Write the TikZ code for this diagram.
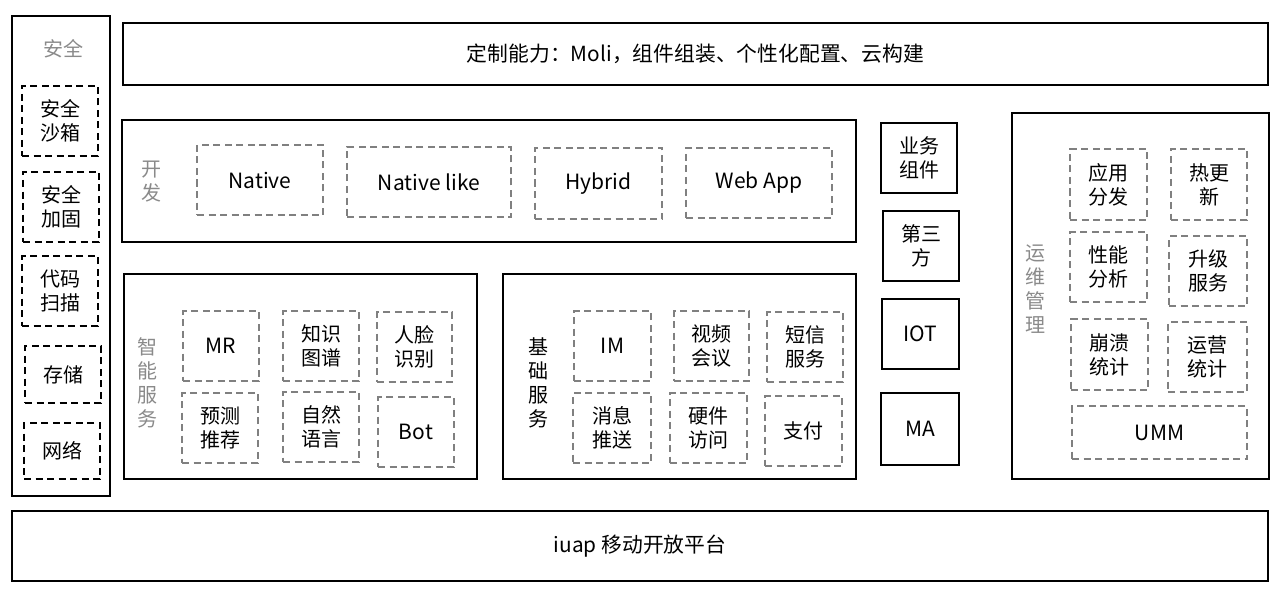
\documentclass[tikz,border=0pt]{standalone}
\usepackage{fontspec}
\setmainfont{Noto Sans CJK SC}
\definecolor{dgray}{HTML}{808080}
\definecolor{lgray}{HTML}{8A8A8A}
\newcommand{\bx}[7]{\node[#1, minimum width={(#5-#3)*1pt}, minimum height={(#6-#4)*1pt}] (#2) at ({(#3+#5)/2},{(#4+#6)/2}) {#7};}
\begin{document}
\begin{tikzpicture}[x=1pt,y=-1pt,
  every node/.style={inner sep=0pt, outer sep=0pt, align=center, font=\fontsize{20}{24}\selectfont},
  solidbox/.style={draw=black, line width=2pt},
  thinbox/.style={draw=black, line width=1.3pt},
  gdash/.style={draw=dgray, line width=1.9pt, dash pattern=on 7pt off 4.5pt},
  bdash/.style={draw=black, line width=2pt, dash pattern=on 7pt off 4.5pt},
  glabel/.style={text=lgray},
  latin/.style={font=\fontsize{21}{24}\selectfont},
  bigtext/.style={font=\fontsize{20.8}{24}\selectfont}]
\useasboundingbox[fill=white] (0,0) rectangle (1284,596);

% left security column
\bx{solidbox}{sec}{12}{16}{110}{496}{}
\node[glabel] (seclbl) at (63,49) {安全};
\bx{bdash}{sandbox}{22}{86}{98}{156}{安全\\沙箱}
\bx{bdash}{harden}{23}{172}{99}{242}{安全\\加固}
\bx{bdash}{scan}{22}{256}{98}{326}{代码\\扫描}
\bx{bdash}{store}{25}{346}{101}{403}{存储}
\bx{bdash}{net}{24}{423}{100}{479}{网络}

% top customisation bar
\bx{thinbox,bigtext}{custom}{123}{23}{1268}{85}{定制能力：Moli，组件组装、个性化配置、云构建}

% development
\bx{solidbox}{dev}{122}{120}{856}{242}{}
\node[glabel] (devlbl) at (151,182) {开\\发};
\bx{gdash,latin}{native}{197}{145}{323}{215}{Native}
\bx{gdash,latin}{nlike}{347}{147}{511}{217}{Native like}
\bx{gdash,latin}{hybrid}{535}{148}{662}{219}{Hybrid}
\bx{gdash,latin}{webapp}{686}{148}{832}{218}{Web App}

% intelligent services
\bx{solidbox}{ai}{124}{274}{477}{479}{}
\node[glabel] (ailbl) at (147,383) {智\\能\\服\\务};
\bx{gdash,latin}{mr}{183}{311}{259}{381}{MR}
\bx{gdash}{kg}{283}{311}{359}{381}{知识\\图谱}
\bx{gdash}{face}{377}{312}{452}{382}{人脸\\识别}
\bx{gdash}{pred}{182}{393}{258}{463}{预测\\推荐}
\bx{gdash}{nlp}{283}{392}{359}{462}{自然\\语言}
\bx{gdash,latin}{bot}{378}{397}{454}{467}{Bot}

% basic services
\bx{solidbox}{base}{503}{274}{856}{479}{}
\node (baselbl) at (538,383) {基\\础\\服\\务};
\bx{gdash,latin}{im}{574}{311}{651}{381}{IM}
\bx{gdash}{video}{674}{311}{749}{381}{视频\\会议}
\bx{gdash}{sms}{767}{312}{843}{382}{短信\\服务}
\bx{gdash}{push}{573}{393}{651}{463}{消息\\推送}
\bx{gdash}{hw}{670}{393}{747}{463}{硬件\\访问}
\bx{gdash}{pay}{765}{396}{842}{466}{支付}

% middle column
\bx{solidbox}{biz}{881}{123}{957}{193}{业务\\组件}
\bx{solidbox}{third}{883}{211}{959}{281}{第三\\方}
\bx{solidbox,latin}{iot}{882}{299}{959}{369}{IOT}
\bx{solidbox,latin}{ma}{881}{393}{959}{465}{MA}

% operations
\bx{solidbox}{ops}{1012}{113}{1269}{479}{}
\node[glabel] (opslbl) at (1035,289) {运\\维\\管\\理};
\bx{gdash}{dist}{1070}{149}{1147}{220}{应用\\分发}
\bx{gdash}{hot}{1171}{149}{1247}{220}{热更\\新}
\bx{gdash}{perf}{1070}{232}{1147}{302}{性能\\分析}
\bx{gdash}{upg}{1169}{236}{1247}{306}{升级\\服务}
\bx{gdash}{crash}{1071}{319}{1148}{390}{崩溃\\统计}
\bx{gdash}{opstat}{1168}{322}{1247}{392}{运营\\统计}
\bx{gdash,latin}{umm}{1072}{406}{1247}{459}{UMM}

% platform
\bx{solidbox,bigtext}{plat}{12}{511}{1268}{581}{iuap 移动开放平台}
\end{tikzpicture}
\end{document}
